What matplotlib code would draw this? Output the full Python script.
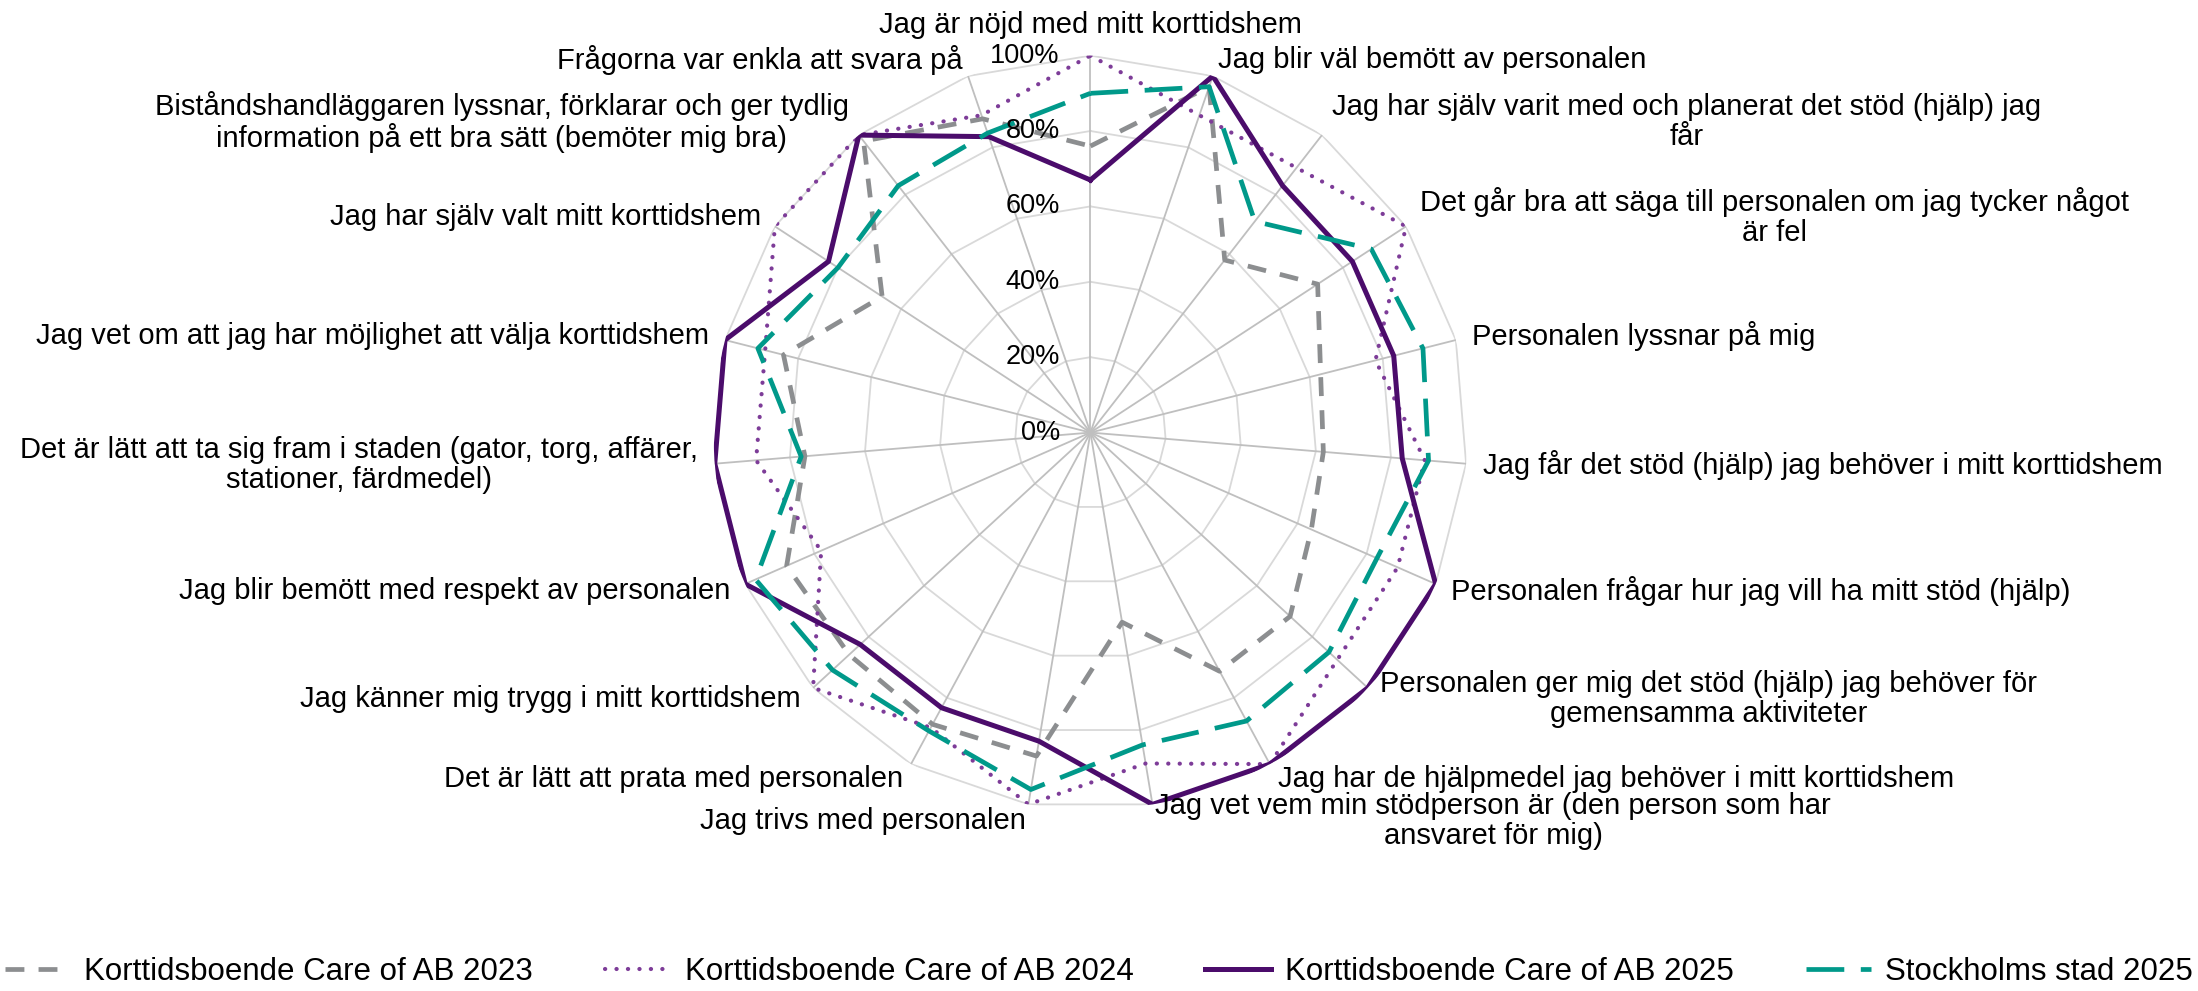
import numpy as np
import matplotlib.pyplot as plt

plt.rcParams['font.family'] = ['Liberation Sans', 'DejaVu Sans']

# data (percent)
categories = [
    "Jag är nöjd med mitt korttidshem",
    "Jag blir väl bemött av personalen",
    "Jag har själv varit med och planerat det stöd (hjälp) jag\nfår",
    "Det går bra att säga till personalen om jag tycker något\när fel",
    "Personalen lyssnar på mig",
    "Jag får det stöd (hjälp) jag behöver i mitt korttidshem",
    "Personalen frågar hur jag vill ha mitt stöd (hjälp)",
    "Personalen ger mig det stöd (hjälp) jag behöver för\ngemensamma aktiviteter",
    "Jag har de hjälpmedel jag behöver i mitt korttidshem",
    "Jag vet vem min stödperson är (den person som har\nansvaret för mig)",
    "Jag trivs med personalen",
    "Det är lätt att prata med personalen",
    "Jag känner mig trygg i mitt korttidshem",
    "Jag blir bemött med respekt av personalen",
    "Det är lätt att ta sig fram i staden (gator, torg, affärer,\nstationer, färdmedel)",
    "Jag vet om att jag har möjlighet att välja korttidshem",
    "Jag har själv valt mitt korttidshem",
    "Biståndshandläggaren lyssnar, förklarar och ger tydlig\ninformation på ett bra sätt (bemöter mig bra)",
    "Frågorna var enkla att svara på",
]

care_2023 = [76, 97, 58, 72, 63, 62, 64, 72, 72, 51, 87, 88, 87, 88, 76, 84, 66, 98, 88]
care_2024 = [100, 89, 89, 100, 78, 89, 89, 89, 100, 89, 100, 89, 100, 78, 89, 89, 100, 100, 89]
care_2025 = [67, 100, 83, 83, 83, 83, 100, 100, 100, 100, 83, 83, 83, 100, 100, 100, 83, 100, 83]
sthlm_2025 = [90, 97, 71, 89, 91, 90, 83, 86, 87, 84, 96, 90, 93, 97, 77, 91, 80, 83, 84]

series_names = ["Korttidsboende Care of AB 2023", "Korttidsboende Care of AB 2024",
                "Korttidsboende Care of AB 2025", "Stockholms stad 2025"]
r_ticks = [0, 20, 40, 60, 80, 100]

n = len(categories)
angles = np.linspace(0, 2 * np.pi, n, endpoint=False)
th = np.append(angles, angles[0])

def closed(v):
    return list(v) + [v[0]]

fig = plt.figure(figsize=(21.98, 9.91), dpi=100)
ax = fig.add_axes([0.3246, 0.1831, 0.3430, 0.7608], projection='polar')
ax.set_theta_offset(np.pi / 2)
ax.set_theta_direction(-1)
ax.set_ylim(0, 100)
ax.grid(False)
ax.set_xticks([])
ax.set_yticks([])
ax.spines['polar'].set_visible(False)

# spider web grid
for t in r_ticks[1:]:
    ax.plot(th, [t] * (n + 1), color='#D9D9D9', lw=1.3, zorder=1)
for a in angles:
    ax.plot([a, a], [0, 100], color='#BFBFBF', lw=1.3, zorder=1)

for t in r_ticks:
    ax.annotate("%d%%" % t, xy=(0, t), xytext=(-22, 0), textcoords='offset points',
                ha='right', va='center', fontsize=19.5, color='#000000', zorder=5)

l1, = ax.plot(th, closed(care_2023), color='#8C8E90', lw=3.4,
              linestyle=(0, (4, 3)), zorder=3)
l2, = ax.plot(th, closed(care_2024), color='#7D3C98', lw=3.0,
              linestyle=(0, (0.05, 2.7)), dash_capstyle='round', zorder=3)
l3, = ax.plot(th, closed(care_2025), color='#4B0C6B', lw=3.6, zorder=3)
l4, = ax.plot(th, closed(sthlm_2025), color='#00998A', lw=3.4,
              linestyle=(0, (8, 3.5)), zorder=3)

# category labels around the web
pad = 12
for a, lab in zip(angles, categories):
    s, c = np.sin(a), np.cos(a)
    if s > 0.1:
        ha = 'left'
    elif s < -0.1:
        ha = 'right'
    else:
        ha = 'center'
    va = 'center'
    if ha == 'center':
        va = 'bottom' if c > 0 else 'top'
    ax.annotate(lab, xy=(a, 100), xytext=(pad * s, pad * c), textcoords='offset points',
                ha=ha, va=va, ma='center', fontsize=21, linespacing=1.1,
                annotation_clip=False, zorder=5)

fig.legend([l1, l2, l3, l4], series_names, loc='lower center', bbox_to_anchor=(0.5, -0.018),
           ncol=4, frameon=False, fontsize=22.5, handlelength=2.1, handletextpad=0.45,
           columnspacing=2.3, borderaxespad=0.3)

fig.savefig("out.png", dpi=100)
